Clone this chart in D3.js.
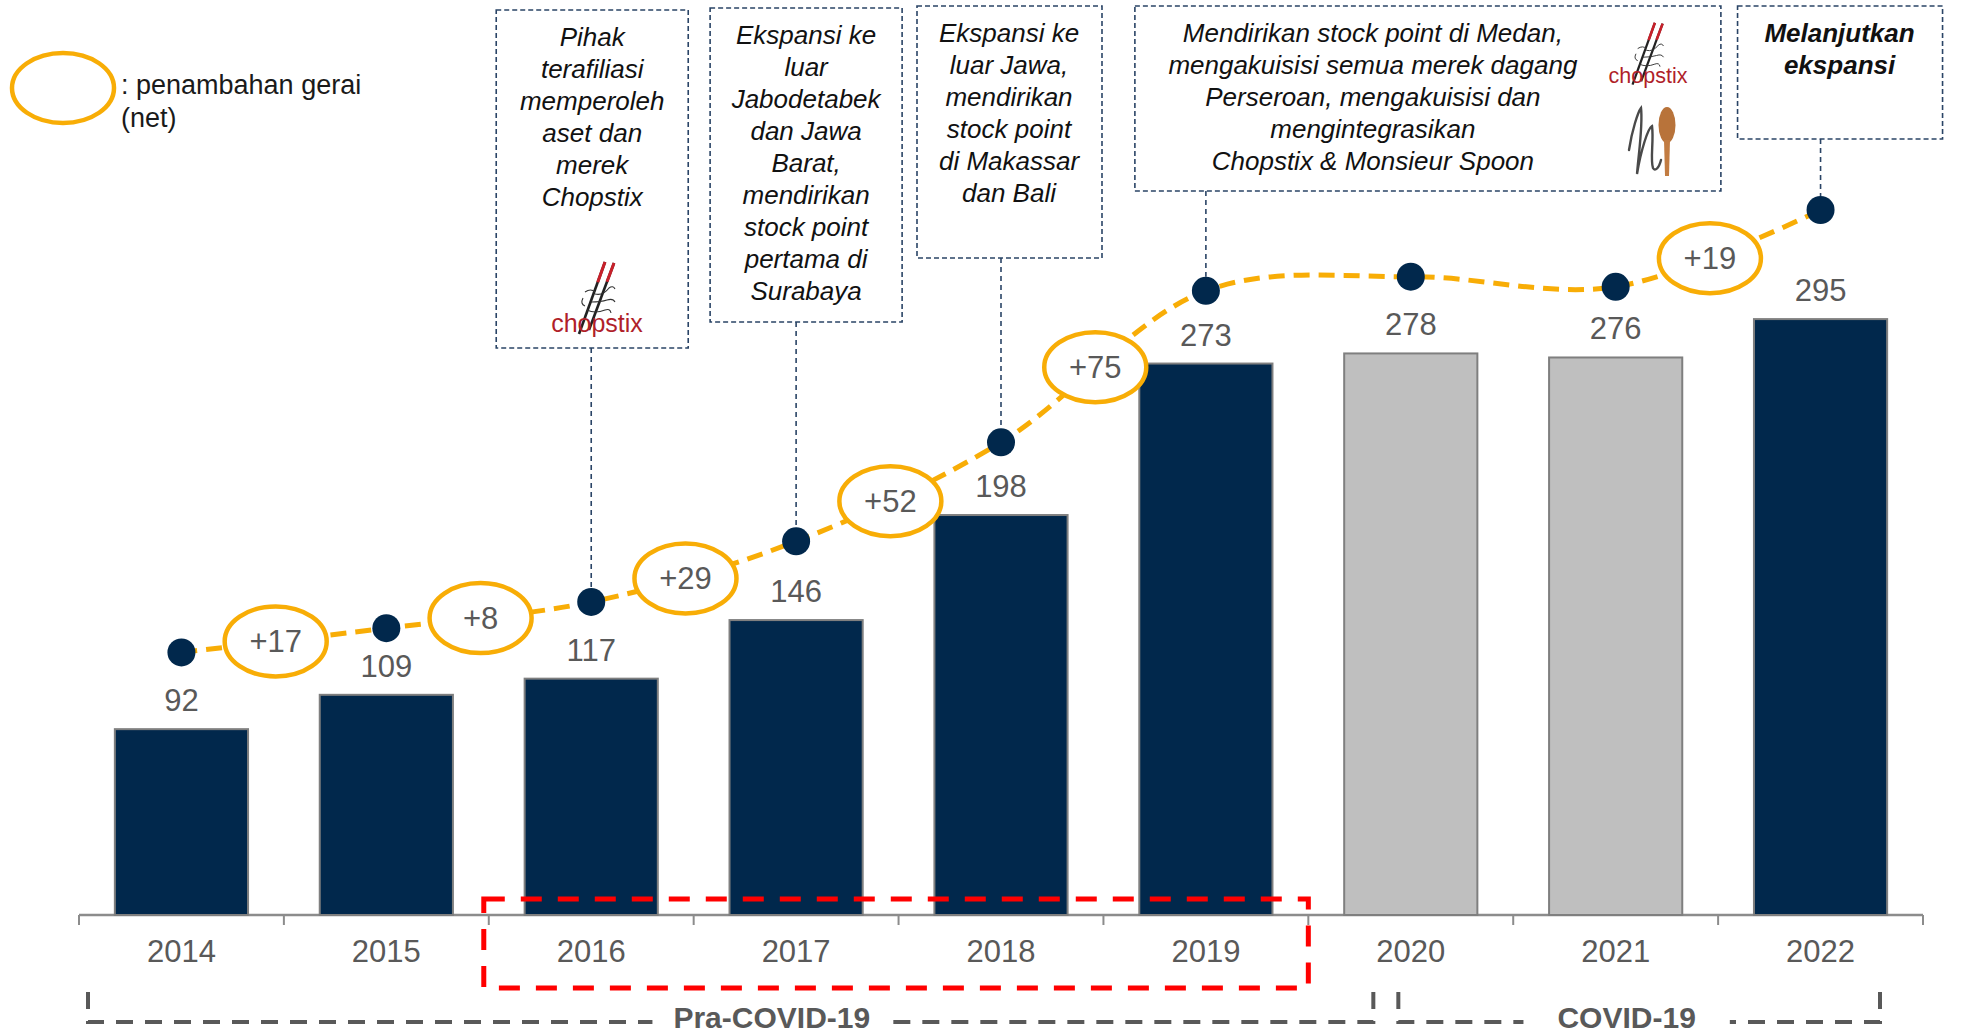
<!DOCTYPE html>
<html>
<head>
<meta charset="utf-8">
<script src="https://cdn.jsdelivr.net/npm/d3@7"></script>
<style>
  body { margin: 0; background: #fff; }
</style>
</head>
<body>
<div id="chart"></div>
<script>
// ---- data ----
const years = ["2014", "2015", "2016", "2017", "2018", "2019", "2020", "2021", "2022"];
const outlets = [92, 109, 117, 146, 198, 273, 278, 276, 295];
// height of the decorative dotted trend line, in the same units as the bars
const trendLevel = [130, 142, 155, 185, 234, 309, 316, 311, 349];
// net additions shown between consecutive years (null = not shown)
const netAdds = ["+17", "+8", "+29", "+52", "+75", null, null, "+19"];
const covidYears = ["2020", "2021"];
const periodLabels = ["Pra-COVID-19", "COVID-19"];
const legendLines = [": penambahan gerai", "(net)"];

const noteYears = ["2016", "2017", "2018", "2019", "2022"];
const noteLines = [
  ["Pihak", "terafiliasi", "memperoleh", "aset dan", "merek", "Chopstix"],
  ["Ekspansi ke", "luar", "Jabodetabek", "dan Jawa", "Barat,", "mendirikan", "stock point", "pertama di", "Surabaya"],
  ["Ekspansi ke", "luar Jawa,", "mendirikan", "stock point", "di Makassar", "dan Bali"],
  ["Mendirikan stock point di Medan,", "mengakuisisi semua merek dagang", "Perseroan, mengakuisisi dan", "mengintegrasikan", "Chopstix & Monsieur Spoon"],
  ["Melanjutkan", "ekspansi"]
];

// ---- setup ----
const W = 1962, H = 1036;
const FONT = "'Liberation Sans', Arial, Helvetica, sans-serif";
const NAVY = "#01284c";
const GREY_BAR = "#bfbfbf";
const ORANGE = "#f8ad06";
const TXT = "#595959";
const BOX = "#2a4466";

const svg = d3.select("#chart").append("svg")
    .attr("width", W)
    .attr("height", H)
    .style("font-family", FONT);

const x = d3.scaleBand()
    .domain(years)
    .range([79, 1923])
    .paddingInner(0.35)
    .paddingOuter(0.175);
const step = x.step();
const cellStart = d => x(d) - step * 0.175;
const cx = d => x(d) + x.bandwidth() / 2;

const y = d3.scaleLinear().domain([0, 300]).range([915, 309]);

// =========================
// AXIS
// =========================
const bounds = years.map(cellStart).concat([cellStart(years[years.length - 1]) + step]);

svg.append("line")
    .attr("x1", bounds[0]).attr("x2", bounds[bounds.length - 1])
    .attr("y1", y(0)).attr("y2", y(0))
    .attr("stroke", "#8c8c8c").attr("stroke-width", 2.5);

svg.selectAll(".btick")
    .data(bounds)
    .enter().append("line")
    .attr("x1", d => d).attr("x2", d => d)
    .attr("y1", y(0)).attr("y2", y(0) + 10)
    .attr("stroke", "#8c8c8c").attr("stroke-width", 2);

const axisG = svg.append("g")
    .attr("transform", `translate(0,${y(0)})`)
    .call(d3.axisBottom(x).tickSize(0).tickPadding(25));
axisG.select(".domain").remove();
axisG.attr("font-family", FONT).attr("font-size", 31);
axisG.selectAll("text").attr("fill", TXT);

// =========================
// BARS
// =========================
svg.selectAll(".bar")
    .data(years)
    .enter().append("rect")
    .attr("x", d => x(d))
    .attr("y", (d, i) => y(outlets[i]))
    .attr("width", x.bandwidth())
    .attr("height", (d, i) => y(0) - y(outlets[i]))
    .attr("fill", d => covidYears.includes(d) ? GREY_BAR : NAVY)
    .attr("stroke", "#7f7f7f")
    .attr("stroke-width", 2);

svg.selectAll(".val")
    .data(years)
    .enter().append("text")
    .attr("x", d => cx(d))
    .attr("y", (d, i) => y(outlets[i]) - 18)
    .attr("text-anchor", "middle")
    .attr("font-size", 31)
    .attr("fill", TXT)
    .text((d, i) => outlets[i]);

// =========================
// NOTE BOXES
// =========================
// box placement relative to the year it points at
const boxLayout = [
  { dx: -95, top: 10, w: 192, h: 338, tx: 96 },
  { dx: -86, top: 8, w: 192, h: 314, tx: 96 },
  { dx: -84, top: 6, w: 185, h: 252, tx: 92 },
  { dx: -71, top: 6, w: 586, h: 185, tx: 238 },
  { dx: -83, top: 6, w: 205, h: 133, tx: 102 }
];

const dotR = 14;

noteYears.forEach((yr, k) => {
  const b = boxLayout[k];
  const left = cx(yr) + b.dx;
  const idx = years.indexOf(yr);

  // connector
  svg.append("line")
      .attr("x1", cx(yr)).attr("x2", cx(yr))
      .attr("y1", b.top + b.h).attr("y2", y(trendLevel[idx]) - dotR)
      .attr("stroke", BOX).attr("stroke-width", 1.6)
      .attr("stroke-dasharray", "5,4");

  svg.append("rect")
      .attr("x", left).attr("y", b.top)
      .attr("width", b.w).attr("height", b.h)
      .attr("fill", "none")
      .attr("stroke", BOX).attr("stroke-width", 1.6)
      .attr("stroke-dasharray", "5,3");

  const t = svg.append("text")
      .attr("text-anchor", "middle")
      .attr("font-size", 26)
      .attr("font-style", "italic")
      .attr("font-weight", k === 4 ? "bold" : "normal")
      .attr("fill", "#111");
  noteLines[k].forEach((ln, j) => {
    t.append("tspan")
        .attr("x", left + b.tx)
        .attr("y", b.top + 36 + j * 32)
        .text(ln);
  });
});

// small drawn logos
function chopstixLogo(cxL, base, fs) {
  const s = fs / 25;
  const g = svg.append("g").attr("transform", `translate(${cxL},${base}) scale(${s})`);
  const sticks = [[8, -70, -18, 2], [17, -69, -8, -2]];
  sticks.forEach(([x1, y1, x2, y2]) => {
    g.append("line").attr("x1", x1).attr("y1", y1).attr("x2", x2).attr("y2", y2)
        .attr("stroke", "#222").attr("stroke-width", 2.6);
    g.append("line").attr("x1", x1).attr("y1", y1)
        .attr("x2", x1 + (x2 - x1) * 0.28).attr("y2", y1 + (y2 - y1) * 0.28)
        .attr("stroke", "#c8202a").attr("stroke-width", 3);
  });
  g.append("path")
      .attr("d", "M-12,-40 q6,-4 10,0 M-2,-38 q8,2 14,-6 q4,-3 6,1 M-6,-30 q10,0 16,-2 q6,-2 8,2 M-10,-22 q8,4 18,0 q5,-2 6,3 M-14,-34 q-3,6 2,8")
      .attr("fill", "none").attr("stroke", "#333").attr("stroke-width", 1.1);
  g.append("text")
      .attr("x", 0).attr("y", 0)
      .attr("text-anchor", "middle")
      .attr("font-size", 25)
      .attr("fill", "#b01f2a")
      .text("chopstix");
}
chopstixLogo(597, 332, 25);
chopstixLogo(1648, 83, 21.5);

// Monsieur Spoon mark
svg.append("path")
    .attr("d", "M1629,150 C1632,130 1638,112 1641,108 C1643,125 1639,150 1637,174 C1641,150 1648,128 1652,126 C1654,140 1650,160 1653,168 C1655,172 1659,168 1661,160")
    .attr("fill", "none").attr("stroke", "#4a4a4a").attr("stroke-width", 2.4)
    .attr("stroke-linecap", "round");
svg.append("ellipse")
    .attr("cx", 1667).attr("cy", 125).attr("rx", 8.5).attr("ry", 18)
    .attr("fill", "#b8733a");
svg.append("path")
    .attr("d", "M1664,140 L1670,140 L1669,176 L1665,176 Z")
    .attr("fill", "#c27c42");

// =========================
// TREND LINE + NET ADDITIONS
// =========================
const trendPts = years.map((d, i) => [cx(d), y(trendLevel[i])]);
const trendPath = svg.append("path")
    .attr("d", d3.line().curve(d3.curveCatmullRom.alpha(0.5))(trendPts))
    .attr("fill", "none")
    .attr("stroke", ORANGE)
    .attr("stroke-width", 5)
    .attr("stroke-dasharray", "16,9");

function pointAtX(node, tx) {
  let lo = 0, hi = node.getTotalLength();
  for (let k = 0; k < 40; k++) {
    const mid = (lo + hi) / 2;
    if (node.getPointAtLength(mid).x < tx) lo = mid; else hi = mid;
  }
  return node.getPointAtLength((lo + hi) / 2);
}

netAdds.forEach((lab, i) => {
  if (!lab) return;
  const p = pointAtX(trendPath.node(), cx(years[i]) + step * 0.46);
  svg.append("ellipse")
      .attr("cx", p.x).attr("cy", p.y)
      .attr("rx", 51).attr("ry", 35)
      .attr("fill", "#fff")
      .attr("stroke", ORANGE).attr("stroke-width", 4.5);
  svg.append("text")
      .attr("x", p.x).attr("y", p.y + 11)
      .attr("text-anchor", "middle")
      .attr("font-size", 31)
      .attr("fill", TXT)
      .text(lab);
});

svg.selectAll(".dot")
    .data(years)
    .enter().append("circle")
    .attr("cx", d => cx(d))
    .attr("cy", (d, i) => y(trendLevel[i]))
    .attr("r", dotR)
    .attr("fill", NAVY);

// =========================
// LEGEND
// =========================
svg.append("ellipse")
    .attr("cx", 63).attr("cy", 88)
    .attr("rx", 51).attr("ry", 35)
    .attr("fill", "#fff")
    .attr("stroke", ORANGE).attr("stroke-width", 4.5);
svg.selectAll(".leg")
    .data(legendLines)
    .enter().append("text")
    .attr("x", 121)
    .attr("y", (d, i) => 94 + i * 33)
    .attr("font-size", 27)
    .attr("fill", "#1a1a1a")
    .text(d => d);

// =========================
// HIGHLIGHT + PERIOD BRACKETS
// =========================
svg.append("rect")
    .attr("x", cellStart("2016") - 5)
    .attr("y", y(0) - 16)
    .attr("width", cellStart("2020") - cellStart("2016") + 5)
    .attr("height", 89)
    .attr("fill", "none")
    .attr("stroke", "#ff0000")
    .attr("stroke-width", 5)
    .attr("stroke-dasharray", "21,16");

const bracketTop = 992, bracketBot = 1022;
const periodLayout = [
  { x0: cellStart("2014") + 9, x1: cellStart("2020") + 65, at: 0.532, gap: 21 },
  { x0: cellStart("2020") + 90, x1: bounds[bounds.length - 1] - 43, at: 0.474, gap: 34 }
];

periodLabels.forEach((lab, k) => {
  const p = periodLayout[k];
  const tcx = p.x0 + (p.x1 - p.x0) * p.at;
  const t = svg.append("text")
      .attr("x", tcx).attr("y", 1028)
      .attr("text-anchor", "middle")
      .attr("font-size", 30)
      .attr("font-weight", "bold")
      .attr("fill", TXT)
      .text(lab);
  const half = t.node().getComputedTextLength() / 2;
  svg.append("path")
      .attr("d", `M${p.x0},${bracketTop} V${bracketBot} H${tcx - half - p.gap}`)
      .attr("fill", "none").attr("stroke", TXT).attr("stroke-width", 4)
      .attr("stroke-dasharray", "17,12");
  svg.append("path")
      .attr("d", `M${p.x1},${bracketTop} V${bracketBot} H${tcx + half + p.gap}`)
      .attr("fill", "none").attr("stroke", TXT).attr("stroke-width", 4)
      .attr("stroke-dasharray", "17,12");
});
</script>
</body>
</html>
